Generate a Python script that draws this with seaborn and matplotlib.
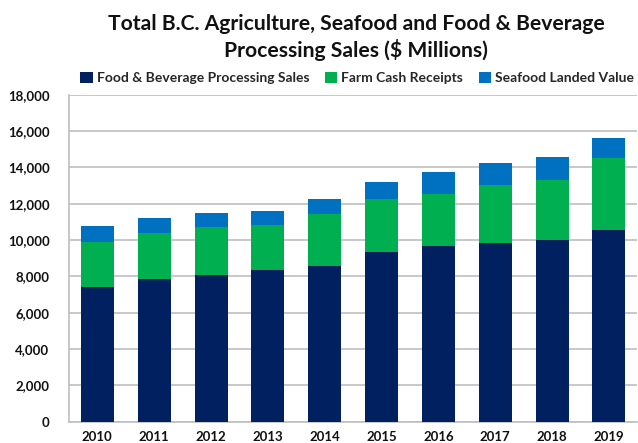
import matplotlib
matplotlib.use("Agg")
import matplotlib.pyplot as plt
from matplotlib.patches import Patch
import numpy as np
import pandas as pd
import seaborn as sns

years = ["2010", "2011", "2012", "2013", "2014", "2015", "2016", "2017", "2018", "2019"]
food_bev = [7420, 7870, 8090, 8370, 8600, 9350, 9680, 9860, 9990, 10570]
farm_cash = [2490, 2510, 2620, 2470, 2810, 2930, 2880, 3180, 3320, 3930]
seafood = [880, 810, 760, 760, 870, 920, 1200, 1220, 1280, 1100]

series_names = ["Food & Beverage Processing Sales", "Farm Cash Receipts", "Seafood Landed Value"]
colors = ["#002060", "#00B050", "#0070C0"]

sns.set_style("white")
plt.rcParams["font.family"] = ["Lato", "DejaVu Sans"]

df = pd.DataFrame({"year": years, "food": food_bev, "farm": farm_cash, "sea": seafood})
df["lvl1"] = df["food"]
df["lvl2"] = df["food"] + df["farm"]
df["lvl3"] = df["lvl2"] + df["sea"]

fig = plt.figure(figsize=(6.38, 4.43), dpi=100)
ax = fig.add_axes([0.108, 0.048, 0.891, 0.738])

# draw cumulative totals, tallest first so lower segments sit on top
for col, c in zip(["lvl3", "lvl2", "lvl1"], colors[::-1]):
    sns.barplot(data=df, x="year", y=col, color=c, width=0.58, ax=ax,
                saturation=1, edgecolor="none", zorder=3)

ax.set_ylim(0, 18000)
ax.set_xlim(-0.5, 9.5)
ax.set_yticks(np.arange(0, 18001, 2000))
ax.set_yticklabels([f"{v:,}" for v in range(0, 18001, 2000)])
ax.yaxis.grid(True, color="#BFBFBF", lw=1.2, zorder=0)
ax.set_axisbelow(True)
ax.set_xlabel("")
ax.set_ylabel("")
for s in ["top", "right"]:
    ax.spines[s].set_visible(False)
for s in ["left", "bottom"]:
    ax.spines[s].set_color("#BFBFBF")
    ax.spines[s].set_linewidth(1.2)
ax.tick_params(axis="both", length=0, labelsize=9.5, colors="#111111")
ax.tick_params(axis="y", pad=14)
ax.tick_params(axis="x", pad=7)
for lbl in ax.get_xticklabels() + ax.get_yticklabels():
    lbl.set_fontweight("bold")

fig.text(0.558, 1 - 30 / 443, "Total B.C. Agriculture, Seafood and Food & Beverage",
         ha="center", va="baseline", fontsize=15.2, fontweight="bold", color="#111111")
fig.text(0.558, 1 - 57 / 443, "Processing Sales ($ Millions)",
         ha="center", va="baseline", fontsize=15.2, fontweight="bold", color="#111111")

handles = [Patch(facecolor=c, edgecolor="none") for c in colors]
fig.legend(handles, series_names, loc="center", bbox_to_anchor=(0.56, 1 - 78 / 443), ncol=3,
           frameon=False, prop={"size": 10, "weight": "bold"}, handlelength=0.9,
           handleheight=0.9, handletextpad=0.3, columnspacing=1.1)

fig.savefig("out.png", dpi=100)
